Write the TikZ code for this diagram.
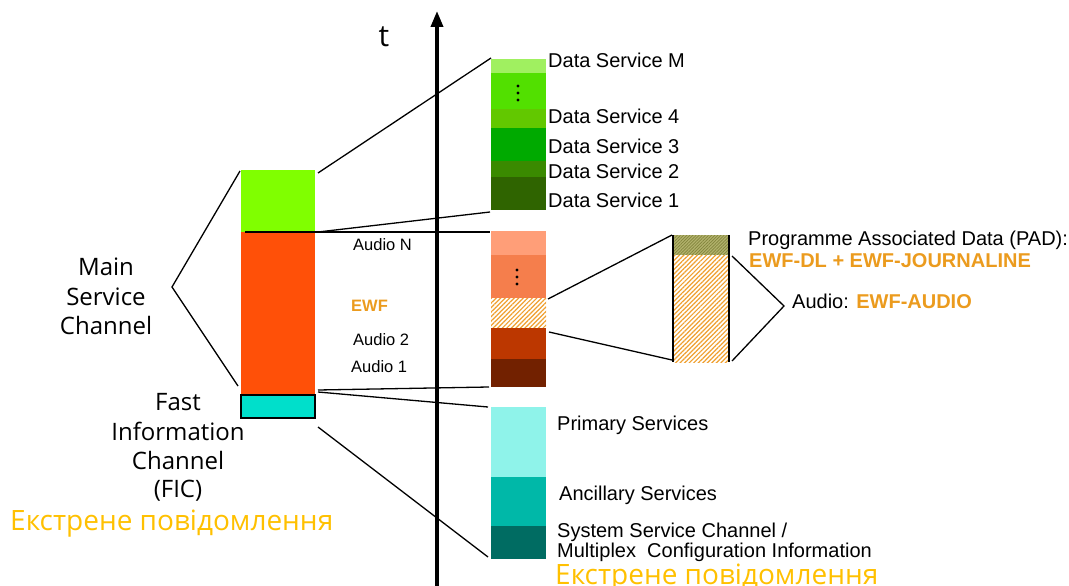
\documentclass[tikz,border=0pt]{standalone}
\usepackage{fontspec}
\setmainfont{Liberation Sans}
\newfontfamily\segfont{Open Sans}
\usetikzlibrary{patterns.meta,arrows.meta}
\definecolor{cGreen}{RGB}{128,255,0}
\definecolor{cRed}{RGB}{255,80,8}
\definecolor{cCyan}{RGB}{0,223,203}
\definecolor{dM}{RGB}{160,240,96}
\definecolor{dDots}{RGB}{82,224,0}
\definecolor{dFour}{RGB}{98,200,0}
\definecolor{dThree}{RGB}{0,170,0}
\definecolor{dTwo}{RGB}{58,138,0}
\definecolor{dOne}{RGB}{47,100,0}
\definecolor{aN}{RGB}{255,158,120}
\definecolor{aDots}{RGB}{245,126,76}
\definecolor{aTwo}{RGB}{188,55,0}
\definecolor{aOne}{RGB}{114,33,0}
\definecolor{hatchorange}{RGB}{240,160,48}
\definecolor{padolive}{RGB}{178,178,108}
\definecolor{padline}{RGB}{130,132,60}
\definecolor{fPrim}{RGB}{143,243,234}
\definecolor{fAnc}{RGB}{0,184,168}
\definecolor{fSys}{RGB}{0,108,98}
\definecolor{ewforange}{RGB}{235,155,30}
\definecolor{ukr}{RGB}{255,192,0}
\tikzset{
  conn/.style={draw=black,line width=1.3pt},
  hatchO/.style={pattern={Lines[angle=45,distance=3.2pt,line width=1.2pt]},pattern color=hatchorange},
  hatchP/.style={pattern={Lines[angle=45,distance=2.2pt,line width=0.7pt]},pattern color=padline},
  lbl/.style={anchor=base west,inner sep=0pt,font=\fontsize{20}{22}\selectfont},
  albl/.style={anchor=base west,inner sep=0pt,font=\fontsize{16.5}{18}\selectfont},
  sglbl/.style={anchor=base,inner sep=0pt,font=\segfont\fontsize{24}{26}\selectfont},
  ukrlbl/.style={anchor=base west,inner sep=0pt,text=ukr,font=\segfont\fontsize{28}{30}\selectfont},
  dots/.style={fill=black}
}
\begin{document}
\begin{tikzpicture}[x=1pt,y=-1pt]
\useasboundingbox (0,0) rectangle (1069,586);
% left column
\fill[cGreen] (241,170) rectangle (315,232);
\fill[cRed] (241,232) rectangle (315,395);
\filldraw[fill=cCyan,draw=black,line width=1.3pt] (241,395) rectangle (315,418);
\coordinate (gTR) at (318,173);
\coordinate (rTL) at (245,232);
\coordinate (rTR) at (318,232);
\coordinate (rBR) at (318,390);
\coordinate (rBR2) at (318,392);
\coordinate (cBR) at (318,427);
\coordinate (gTL) at (240,171);
\coordinate (rBL) at (238,386);
% time axis
\coordinate (axB) at (437,586);
\coordinate (axT) at (437,11);
\draw[line width=3.6pt,-{Triangle[width=12pt,length=16pt]}] (axB) -- (axT);
\node[inner sep=0pt,anchor=base,font=\segfont\fontsize{30}{32}\selectfont] (tlab) at (384,47) {t};
% data column
\fill[dM] (491,59) rectangle (546,73);
\fill[dDots] (491,73) rectangle (546,109);
\fill[dFour] (491,109) rectangle (546,128);
\fill[dThree] (491,128) rectangle (546,161);
\fill[dTwo] (491,161) rectangle (546,177);
\fill[dOne] (491,177) rectangle (546,210);
\foreach \yy in {86,93,100} \fill[dots] (518,\yy) circle (1.6);
\coordinate (dTL) at (491,58);
\coordinate (dBL) at (490,212);
% audio column
\fill[aN] (491,231) rectangle (546,255);
\fill[aDots] (491,255) rectangle (546,298);
\fill[white] (491,298) rectangle (546,328);
\fill[hatchO] (491,298) rectangle (546,328);
\fill[aTwo] (491,328) rectangle (546,359);
\fill[aOne] (491,359) rectangle (546,387);
\foreach \yy in {270,277,284} \fill[dots] (517,\yy) circle (1.6);
\coordinate (aTL) at (490,232);
\coordinate (aBL) at (489,387);
\coordinate (ewfR) at (548,299);
\coordinate (ewfR2) at (549,332);
% FIC column
\fill[fPrim] (491,407) rectangle (546,477);
\fill[fAnc] (491,477) rectangle (546,526);
\fill[fSys] (491,526) rectangle (546,559);
\coordinate (fTL) at (488,407);
\coordinate (fBL) at (488,557);
% PAD box
\fill[padolive] (673,235) rectangle (729,255);
\fill[hatchP] (673,235) rectangle (729,255);
\fill[white] (673,255) rectangle (729,362);
\fill[hatchO] (673,255) rectangle (729,362);
\draw[line width=1.2pt] (673,235) -- (673,362);
\draw[line width=1.2pt] (729,235) -- (729,362);
\coordinate (pTL) at (672,235);
\coordinate (pBL) at (672,360);
\coordinate (pR1) at (732,256);
\coordinate (pR2) at (732,361);
\coordinate (pV) at (784,306);
% connectors
\draw[conn] (gTR) -- (dTL);
\draw[conn] (rTR) -- (dBL);
\draw[conn] (rTL) -- (aTL);
\draw[conn] (rBR) -- (aBL);
\draw[conn] (rBR2) -- (fTL);
\draw[conn] (cBR) -- (fBL);
\draw[conn] (ewfR) -- (pTL);
\draw[conn] (ewfR2) -- (pBL);
\draw[conn] (pR1) -- (pV) -- (pR2);
\coordinate (mV) at (172,287);
\draw[conn] (gTL) -- (mV) -- (rBL);
% data labels
\node[lbl] (lM) at (548,67) {Data Service M};
\node[lbl] (l4) at (548,124) {Data Service 4};
\node[lbl] (l3) at (548,153) {Data Service 3};
\node[lbl] (l2) at (548,178) {Data Service 2};
\node[lbl] (l1) at (548,207) {Data Service 1};
% audio labels
\node[albl] (laN) at (353,250) {Audio N};
\node[albl,text=ewforange,font=\bfseries\fontsize{16.5}{18}\selectfont] (lewf) at (351,311) {EWF};
\node[albl] (la2) at (353,345) {Audio 2};
\node[albl] (la1) at (351,372) {Audio 1};
% PAD labels
\node[lbl] (lpad) at (748,245) {Programme Associated Data (PAD):};
\node[lbl,text=ewforange,font=\bfseries\fontsize{20}{22}\selectfont] (lpad2) at (749,267) {EWF-DL + EWF-JOURNALINE};
\node[lbl] (laud) at (792,308) {Audio: \textcolor{ewforange}{\bfseries EWF-AUDIO}};
% FIC labels
\node[lbl] (lprim) at (557,430) {Primary Services};
\node[lbl] (lanc) at (559,500) {Ancillary Services};
\node[lbl] (lsys) at (557,537) {System Service Channel /};
\node[lbl] (lmux) at (557,557) {Multiplex\ \ Configuration Information};
\node[ukrlbl] (ukr2) at (555,584) {Екстрене повідомлення};
% left labels
\node[sglbl] (m1) at (106,275) {Main};
\node[sglbl] (m2) at (106,305) {Service};
\node[sglbl] (m3) at (106,334) {Channel};
\node[sglbl] (f1) at (178,410) {Fast};
\node[sglbl] (f2) at (178,440) {Information};
\node[sglbl] (f3) at (178,469) {Channel};
\node[sglbl] (f4) at (178,497) {(FIC)};
\node[ukrlbl] (ukr1) at (10,530) {Екстрене повідомлення};
\end{tikzpicture}
\end{document}
